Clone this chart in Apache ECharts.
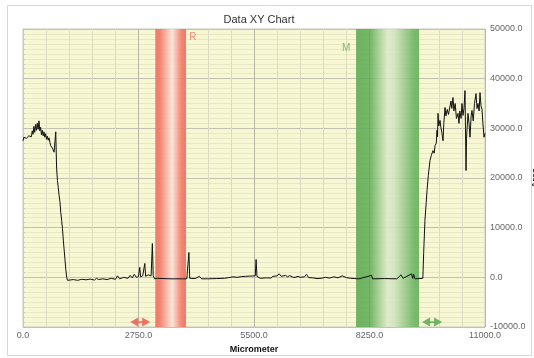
<!DOCTYPE html>
<html>
<head>
<meta charset="utf-8">
<script src="https://cdn.jsdelivr.net/npm/echarts@6/dist/echarts.min.js"></script>
<style>html,body{margin:0;padding:0;background:#fff;}#c{width:534px;height:358px;}</style>
</head>
<body>
<div id="c"></div>
<script>
var xTicks = [0, 2750, 5500, 8250, 11000];
var yTicks = [-10000, 0, 10000, 20000, 30000, 40000, 50000];
var positions = [0,20,40,60,80,100,120,140,160,180,200,220,240,260,280,300,320,340,360,380,400,420,440,460,480,500,520,540,560,580,600,620,640,660,680,700,720,740,760,780,790,800,820,840,860,880,900,920,940,960,980,1000,1020,1040,1060,1080,
1100,1200,1300,1400,1500,1600,1700,1750,1800,1900,2000,2100,2200,2250,2300,2400,2500,2550,2600,2650,2700,2750,2780,2800,2850,2900,2920,2980,3050,3080,3100,3130,3200,3500,3800,3900,3950,3970,4100,4200,4250,4400,4600,4800,4900,5000,5100,5200,5300,5400,5530,5550,5570,5650,5800,5900,5950,6050,6100,6150,6250,6300,6350,6450,6550,6600,6700,6750,6800,6900,7000,7100,7200,7300,7400,7500,7600,7700,7800,7900,8000,8300,8320,8600,8900,9000,9050,9250,9280,9300,9330,9450,9520,
9540,9570,9600,9620,9650,9690,9720,9760,9790,9810,9840,9857,9870,9881,9900,9929,9950,9975,10000,10020,10048,10070,10100,10130,10167,10190,10210,10238,10260,10290,10320,10357,10380,10400,10430,10452,10476,10500,10524,10535,10548,10560,10595,10620,10643,10670,10690,10720,10750,10786,10810,10833,10860,10881,10905,10929,10950,10976,11000];
var heights = [27500,28200,27800,28600,28000,28400,27900,28500,28100,28700,28300,29500,28800,30400,29200,30800,29600,31000,29800,31500,29500,30200,28700,29600,28500,29300,28200,28900,27800,28400,27600,28100,27200,26500,26900,26000,25600,25200,25000,29300,29000,22000,19500,18000,16500,15200,13000,11500,9800,7500,5500,3500,1500,0,-600,-500,
-550,-450,-600,-400,-500,-350,-550,-200,-450,-300,-450,-200,-400,300,-300,0,-200,400,-100,600,0,200,2000,100,300,2800,200,500,300,6800,400,-300,-200,-300,-300,-300,5000,-200,-250,200,-300,-300,-250,-200,-50,100,0,150,200,250,300,3600,200,-200,-100,-150,200,300,700,200,400,100,350,-50,200,0,100,600,-50,-100,-250,-200,0,-150,100,-100,300,-50,-200,-250,-300,400,-300,-250,-300,500,-200,700,-200,600,-300,-250,-200,
5000,11500,15000,17500,20500,23500,24500,25500,25000,26500,27000,29600,28300,33000,30500,31600,30200,29000,27500,31000,34200,32500,33800,32800,33200,35500,34000,36200,33500,35000,32000,33000,31000,33500,32000,35000,32600,34000,37600,30000,21500,28000,33000,31000,28200,32500,33600,31500,35000,37000,34000,35000,33500,37200,34500,33800,31000,28200,29000];
var bandR = [3150, 3880];
var bandM = [7930, 9430];
var handleR = [2790, -9000];
var handleM = [9740, -9000];

var chart = echarts.init(document.getElementById('c'));
var G = echarts.graphic.LinearGradient;
var arrowPath = 'path://M0,5 L8,0 L8,10 Z M20,5 L12,0 L12,10 Z M8,4 L12,4 L12,6 L8,6 Z';
chart.setOption({
  animation: false,
  backgroundColor: '#ffffff',
  title: {
    text: 'Data XY Chart', left: 254, top: 9, textAlign: 'center',
    textStyle: {fontFamily: 'Liberation Sans, Arial', fontSize: 11, fontWeight: 'normal', color: '#333'}
  },
  graphic: [{
    type: 'rect', left: 5, top: 3, shape: {width: 524, height: 350},
    style: {fill: 'none', stroke: '#d8d8d0', lineWidth: 1}, z: -10
  }],
  grid: {left: 23, right: 49, top: 29, bottom: 31, containLabel: false, outerBoundsMode: 'none',
    show: true, backgroundColor: '#f7f7d4', borderColor: '#c8c8bc', borderWidth: 1},
  xAxis: {
    type: 'value', min: xTicks[0], max: xTicks[xTicks.length - 1], interval: 2750,
    name: 'Micrometer', nameLocation: 'middle', nameGap: 16,
    nameTextStyle: {fontFamily: 'Liberation Sans, Arial', fontSize: 9, fontWeight: 'bold', color: '#111'},
    axisLine: {show: false},
    axisTick: {show: false},
    axisLabel: {fontFamily: 'Liberation Sans, Arial', fontSize: 9, color: '#666', margin: 4, formatter: function (v) { return v.toFixed(1); }},
    splitLine: {show: true, lineStyle: {color: '#b8b8aa', width: 1}},
    minorTick: {show: false, splitNumber: 5},
    minorSplitLine: {show: true, lineStyle: {color: '#dcdcc0', width: 1}}
  },
  yAxis: {
    type: 'value', position: 'right', min: yTicks[0], max: yTicks[yTicks.length - 1], interval: 10000,
    name: 'Area', nameLocation: 'middle', nameGap: 46, nameRotate: 90, nameMoveOverlap: false,
    nameTextStyle: {fontFamily: 'Liberation Sans, Arial', fontSize: 9, fontWeight: 'bold', color: '#111'},
    axisLine: {show: true, lineStyle: {color: '#c8c8bc'}},
    axisTick: {show: true, length: 3, lineStyle: {color: '#bbb'}},
    minorTick: {show: true, splitNumber: 10, length: 2, lineStyle: {color: '#ccc'}},
    axisLabel: {fontFamily: 'Liberation Sans, Arial', fontSize: 9, color: '#666', margin: 5, formatter: function (v) { return v.toFixed(1); }},
    splitLine: {show: true, lineStyle: {color: '#c2c2b2', width: 1}},
    minorSplitLine: {show: true, lineStyle: {color: '#e8e8c4', width: 1}}
  },
  series: [{
    type: 'line',
    data: positions.map(function (x, i) { return [x, heights[i]]; }),
    showSymbol: false, symbol: 'none',
    lineStyle: {color: '#111', width: 1},
    z: 5,
    markArea: {
      silent: true,
      data: [
        [{xAxis: bandR[0], yAxis: yTicks[yTicks.length - 1],
          itemStyle: {opacity: 0.9, color: new G(0, 0, 1, 0, [
            {offset: 0, color: '#f26a5a'}, {offset: 0.15, color: '#f37868'},
            {offset: 0.55, color: '#fbe4da'}, {offset: 0.85, color: '#f37a6a'}, {offset: 1, color: '#f26a5a'}])},
          label: {show: true, formatter: 'R', position: [34, 3], color: '#f08a7a', fontSize: 10, fontFamily: 'Liberation Sans, Arial'}},
         {xAxis: bandR[1], yAxis: yTicks[0]}],
        [{xAxis: bandM[0], yAxis: yTicks[yTicks.length - 1],
          itemStyle: {opacity: 0.88, color: new G(0, 0, 1, 0, [
            {offset: 0, color: '#5cab52'}, {offset: 0.22, color: '#62ae57'},
            {offset: 0.5, color: '#dde9ca'}, {offset: 0.6, color: '#d2e4bf'},
            {offset: 0.9, color: '#6fb664'}, {offset: 1, color: '#62ae57'}])},
          label: {show: true, formatter: 'M', position: [-14, 14], color: '#7cba72', fontSize: 10, fontFamily: 'Liberation Sans, Arial'}},
         {xAxis: bandM[1], yAxis: yTicks[0]}]
      ]
    },
    markPoint: {
      silent: true,
      symbol: arrowPath, symbolSize: [20, 9],
      label: {show: false},
      data: [
        {coord: handleR, itemStyle: {color: '#f2705f'}},
        {coord: handleM, itemStyle: {color: '#6db463'}}
      ]
    }
  }]
});
</script>
</body>
</html>
